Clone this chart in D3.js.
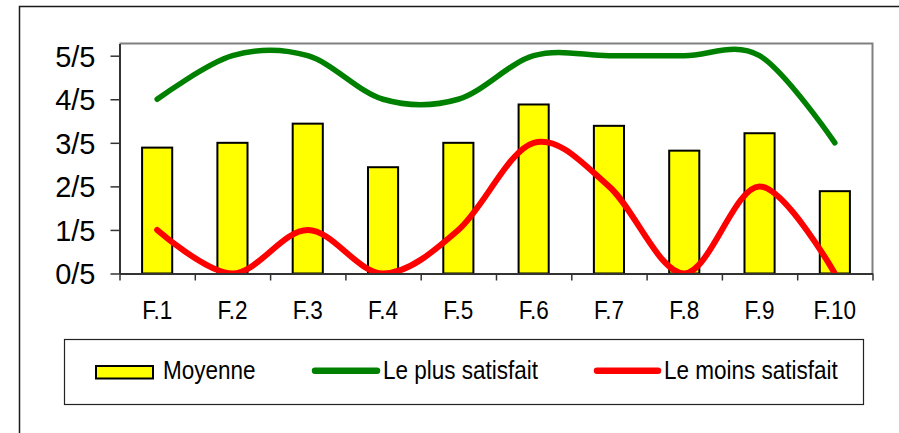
<!DOCTYPE html>
<html>
<head>
<meta charset="utf-8">
<script src="https://cdn.jsdelivr.net/npm/d3@7"></script>
<style>
  html, body { margin: 0; padding: 0; background: #fff; }
  svg { display: block; font-family: "Liberation Sans", Arial, sans-serif; }
</style>
</head>
<body>
<svg id="chart" width="899" height="433"></svg>
<script>
// ---- data ----
const categories = ["F.1","F.2","F.3","F.4","F.5","F.6","F.7","F.8","F.9","F.10"];
const moyenne = [2.89, 3.0, 3.44, 2.44, 3.0, 3.88, 3.39, 2.82, 3.22, 1.89];
const plusSatisfait = [4, 5, 5, 4, 4, 5, 5, 5, 5, 3];
const moinsSatisfait = [1, 0, 1, 0, 1, 3, 2, 0, 2, 0];
const yTickValues = [0, 1, 2, 3, 4, 5];
const yTickLabels = ["0/5","1/5","2/5","3/5","4/5","5/5"];
const legendLabels = ["Moyenne", "Le plus satisfait", "Le moins satisfait"];

// ---- layout ----
const svg = d3.select("#chart");
const plot = { left: 119.5, right: 872.5, top: 43.5, bottom: 273.5 };

// outer frame (cropped on right/bottom)
svg.append("path")
  .attr("d", "M19.5,433 L19.5,6.5 L899,6.5")
  .attr("fill", "none").attr("stroke", "#1a1a1a").attr("stroke-width", 1.5);

const x = d3.scaleBand().domain(categories)
  .range([plot.left, plot.right]).paddingInner(0.6).paddingOuter(0.3);
const xb = d3.scaleLinear().domain([0, categories.length]).range([plot.left, plot.right]);
const y = d3.scaleLinear().domain([0, 5.28]).range([plot.bottom, plot.top]);

// plot area border (top/right gray)
svg.append("path")
  .attr("d", `M${plot.left},${plot.top} L${plot.right},${plot.top} L${plot.right},${plot.bottom}`)
  .attr("fill", "none").attr("stroke", "#808080").attr("stroke-width", 2);

// clip
svg.append("defs").append("clipPath").attr("id", "clip")
  .append("rect").attr("x", plot.left).attr("y", plot.top - 3)
  .attr("width", plot.right - plot.left).attr("height", plot.bottom - plot.top + 3);

// bars
svg.append("g").selectAll("rect").data(moyenne).join("rect")
  .attr("x", (d, i) => x(categories[i]))
  .attr("y", d => y(d))
  .attr("width", x.bandwidth())
  .attr("height", d => y(0) - y(d))
  .attr("fill", "#FFFF00").attr("stroke", "#000").attr("stroke-width", 2);

// lines
const line = d3.line()
  .x((d, i) => x(categories[i]) + x.bandwidth() / 2)
  .y(d => y(d))
  .curve(d3.curveCatmullRom.alpha(0));

const lg = svg.append("g").attr("clip-path", "url(#clip)");
lg.append("path").datum(plusSatisfait).attr("d", line)
  .attr("fill", "none").attr("stroke", "#008000").attr("stroke-width", 5.5)
  .attr("stroke-linecap", "round").attr("stroke-linejoin", "round");
lg.append("path").datum(moinsSatisfait).attr("d", line)
  .attr("fill", "none").attr("stroke", "#FF0000").attr("stroke-width", 6)
  .attr("stroke-linecap", "round").attr("stroke-linejoin", "round");

// y axis
const yAxis = d3.axisLeft(y).tickValues(yTickValues)
  .tickFormat((d, i) => yTickLabels[i]).tickSize(9).tickPadding(15).tickSizeOuter(0);
const gy = svg.append("g").attr("transform", `translate(${plot.left},0)`).call(yAxis);
gy.select(".domain").attr("stroke", "#333").attr("stroke-width", 2);
gy.selectAll(".tick line").attr("stroke", "#333").attr("stroke-width", 1.5);
gy.selectAll(".tick text").attr("font-size", 29).attr("fill", "#000")
  .attr("font-family", "'Liberation Sans', Arial, sans-serif").attr("dy", "0.36em");

// x axis (ticks at category boundaries)
const xAxis = d3.axisBottom(xb).tickValues(d3.range(categories.length + 1))
  .tickFormat("").tickSize(7).tickSizeOuter(0);
const gx = svg.append("g").attr("transform", `translate(0,${plot.bottom})`).call(xAxis);
gx.select(".domain").attr("stroke", "#333").attr("stroke-width", 2);
gx.selectAll(".tick line").attr("stroke", "#333").attr("stroke-width", 1.5);

// x labels
svg.append("g").selectAll("text").data(categories).join("text")
  .attr("transform", d => `translate(${x(d) + x.bandwidth() / 2},319) scale(0.9,1)`)
  .attr("text-anchor", "middle").attr("font-size", 25).attr("fill", "#000")
  .text(d => d);

// legend
svg.append("rect").attr("x", 64.5).attr("y", 339.5).attr("width", 799).attr("height", 65)
  .attr("fill", "none").attr("stroke", "#222").attr("stroke-width", 1.2);

const leg = svg.append("g");
leg.append("rect").attr("x", 96).attr("y", 366).attr("width", 57).attr("height", 12.5)
  .attr("fill", "#FFFF00").attr("stroke", "#000").attr("stroke-width", 2);
leg.append("line").attr("x1", 315).attr("x2", 377).attr("y1", 370.7).attr("y2", 370.7)
  .attr("stroke", "#008000").attr("stroke-width", 6.5).attr("stroke-linecap", "round");
leg.append("line").attr("x1", 597).attr("x2", 658).attr("y1", 370.7).attr("y2", 370.7)
  .attr("stroke", "#FF0000").attr("stroke-width", 6.5).attr("stroke-linecap", "round");

const legX = [163, 383, 664];
leg.selectAll("text").data(legendLabels).join("text")
  .attr("transform", (d, i) => `translate(${legX[i]},378.7) scale(0.9,1)`)
  .attr("font-size", 25).attr("fill", "#000")
  .text(d => d);
</script>
</body>
</html>
